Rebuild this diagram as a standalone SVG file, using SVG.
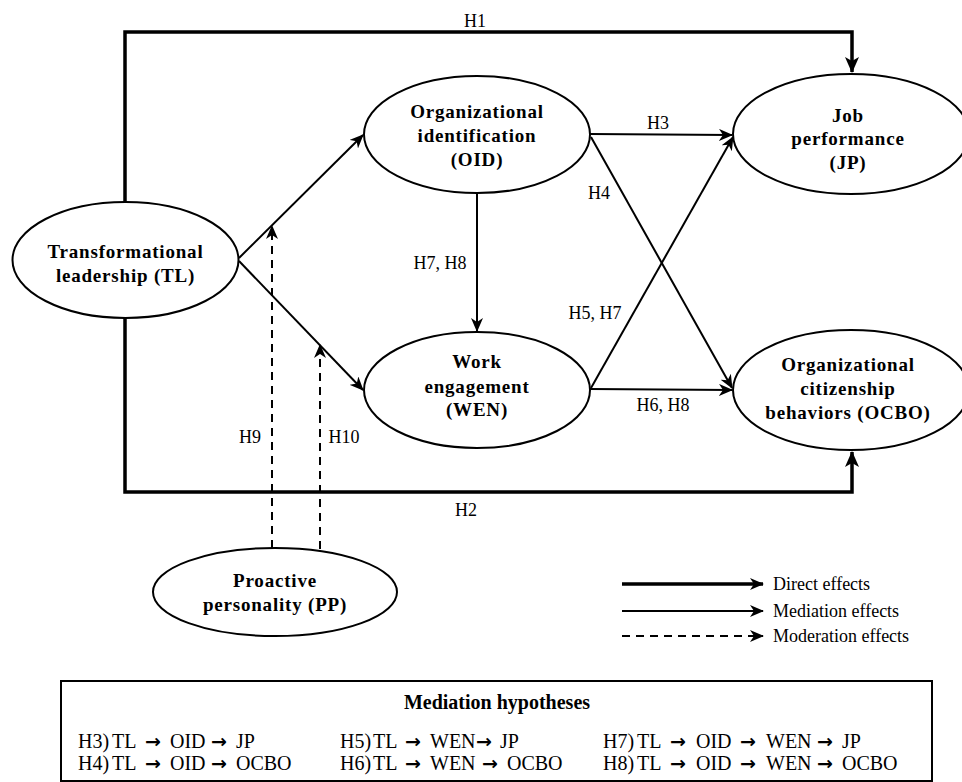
<svg xmlns="http://www.w3.org/2000/svg" width="962" height="782" viewBox="0 0 962 782">
<style>
.node ellipse{fill:#fff;stroke:#000;stroke-width:2}
text{font-family:"Liberation Serif","DejaVu Serif","Times New Roman",serif;fill:#000}
.nt{font-weight:bold;font-size:19px;text-anchor:middle;letter-spacing:0.8px}
.lb{font-size:18px}
.direct{fill:none;stroke:#000;stroke-width:3.5}
.med{fill:none;stroke:#000;stroke-width:2}
.mod{fill:none;stroke:#000;stroke-width:2;stroke-dasharray:8,6}
.mt{font-size:20px}
.ar{font-family:"DejaVu Sans",sans-serif;font-size:19px;font-weight:bold}
</style>
<defs>
<marker id="ah" viewBox="0 0 14 12" refX="13" refY="6" markerWidth="14" markerHeight="12" markerUnits="userSpaceOnUse" orient="auto">
<path d="M0,0 L14,6 L0,12 L4,6 z" fill="#000"/>
</marker>
<marker id="ahb" viewBox="0 0 16 14" refX="15" refY="7" markerWidth="16" markerHeight="14" markerUnits="userSpaceOnUse" orient="auto">
<path d="M0,0 L16,7 L0,14 L4,7 z" fill="#000"/>
</marker>
</defs>
<rect width="962" height="782" fill="#fff"/>
<g id="connectors">
<path class="direct" d="M125,202 V32 H852 V72" marker-end="url(#ahb)"/>
<path class="direct" d="M125,318 V492 H852 V452" marker-end="url(#ahb)"/>
<line class="med" x1="239" y1="258" x2="363" y2="135" marker-end="url(#ah)"/>
<line class="med" x1="239" y1="261" x2="363" y2="390" marker-end="url(#ah)"/>
<line class="med" x1="477" y1="193" x2="477" y2="331" marker-end="url(#ah)"/>
<line class="med" x1="590" y1="134" x2="732" y2="135" marker-end="url(#ah)"/>
<line class="med" x1="591" y1="137" x2="732" y2="388" marker-end="url(#ah)"/>
<line class="med" x1="591" y1="388" x2="733" y2="137" marker-end="url(#ah)"/>
<line class="med" x1="590" y1="389" x2="732" y2="390" marker-end="url(#ah)"/>
<line class="mod" x1="272" y1="548" x2="272" y2="226" marker-end="url(#ah)"/>
<line class="mod" x1="320" y1="549" x2="320" y2="345" marker-end="url(#ah)"/>
<text class="lb" x="475" y="27" text-anchor="middle">H1</text>
<text class="lb" x="466" y="516" text-anchor="middle">H2</text>
<text class="lb" x="658" y="129" text-anchor="middle">H3</text>
<text class="lb" x="599" y="199" text-anchor="middle">H4</text>
<text class="lb" x="440" y="269" text-anchor="middle">H7, H8</text>
<text class="lb" x="595" y="319" text-anchor="middle">H5, H7</text>
<text class="lb" x="663" y="411" text-anchor="middle">H6, H8</text>
<text class="lb" x="250" y="443" text-anchor="middle">H9</text>
<text class="lb" x="344" y="443" text-anchor="middle">H10</text>
</g>
<g id="TL" class="node">
<ellipse cx="125.5" cy="260" rx="113" ry="58"/>
<text class="nt" x="125.5" y="258">Transformational</text>
<text class="nt" x="125.5" y="282">leadership (TL)</text>
</g>
<g id="OID" class="node">
<ellipse cx="477" cy="134.5" rx="113" ry="58.5"/>
<text class="nt" x="477" y="118">Organizational</text>
<text class="nt" x="477" y="142">identification</text>
<text class="nt" x="477" y="166">(OID)</text>
</g>
<g id="JP" class="node">
<ellipse cx="851" cy="134" rx="118" ry="60"/>
<text class="nt" x="848" y="122">Job</text>
<text class="nt" x="848" y="145">performance</text>
<text class="nt" x="848" y="169">(JP)</text>
</g>
<g id="WEN" class="node">
<ellipse cx="477" cy="390" rx="113" ry="58"/>
<text class="nt" x="477" y="368">Work</text>
<text class="nt" x="477" y="393">engagement</text>
<text class="nt" x="477" y="416">(WEN)</text>
</g>
<g id="OCBO" class="node">
<ellipse cx="851" cy="390" rx="118" ry="60"/>
<text class="nt" x="848" y="371">Organizational</text>
<text class="nt" x="848" y="395">citizenship</text>
<text class="nt" x="848" y="419">behaviors (OCBO)</text>
</g>
<g id="PP" class="node">
<ellipse cx="275" cy="592" rx="122" ry="44"/>
<text class="nt" x="275" y="587">Proactive</text>
<text class="nt" x="275" y="611">personality (PP)</text>
</g>
<g id="legend">
<line class="direct" x1="622" y1="584" x2="763" y2="584" marker-end="url(#ah)"/>
<line class="med" x1="622" y1="611" x2="763" y2="611" marker-end="url(#ah)"/>
<line class="mod" x1="622" y1="636" x2="763" y2="636" marker-end="url(#ah)"/>
<text class="lb" x="773" y="590">Direct effects</text>
<text class="lb" x="773" y="617">Mediation effects</text>
<text class="lb" x="773" y="642">Moderation effects</text>
</g>
<g id="mediation-box">
<rect x="61" y="681" width="871" height="100" fill="none" stroke="#000" stroke-width="2"/>
<text class="mt" x="497" y="709" text-anchor="middle" font-weight="bold">Mediation hypotheses</text>
<text class="mt" y="748"><tspan x="78">H3)</tspan><tspan x="112">TL</tspan><tspan class="ar" x="145">→</tspan><tspan x="170">OID</tspan><tspan class="ar" x="211">→</tspan><tspan x="236">JP</tspan></text>
<text class="mt" y="770"><tspan x="78">H4)</tspan><tspan x="112">TL</tspan><tspan class="ar" x="145">→</tspan><tspan x="170">OID</tspan><tspan class="ar" x="211">→</tspan><tspan x="236">OCBO</tspan></text>
<text class="mt" y="748"><tspan x="340">H5)</tspan><tspan x="373">TL</tspan><tspan class="ar" x="405">→</tspan><tspan x="430">WEN</tspan><tspan class="ar" x="476">→</tspan><tspan x="500">JP</tspan></text>
<text class="mt" y="770"><tspan x="340">H6)</tspan><tspan x="373">TL</tspan><tspan class="ar" x="405">→</tspan><tspan x="430">WEN</tspan><tspan class="ar" x="482">→</tspan><tspan x="507">OCBO</tspan></text>
<text class="mt" y="748"><tspan x="603">H7)</tspan><tspan x="637">TL</tspan><tspan class="ar" x="670">→</tspan><tspan x="696">OID</tspan><tspan class="ar" x="740">→</tspan><tspan x="766">WEN</tspan><tspan class="ar" x="817">→</tspan><tspan x="842">JP</tspan></text>
<text class="mt" y="770"><tspan x="603">H8)</tspan><tspan x="637">TL</tspan><tspan class="ar" x="670">→</tspan><tspan x="696">OID</tspan><tspan class="ar" x="740">→</tspan><tspan x="766">WEN</tspan><tspan class="ar" x="817">→</tspan><tspan x="842">OCBO</tspan></text>
</g>
</svg>
